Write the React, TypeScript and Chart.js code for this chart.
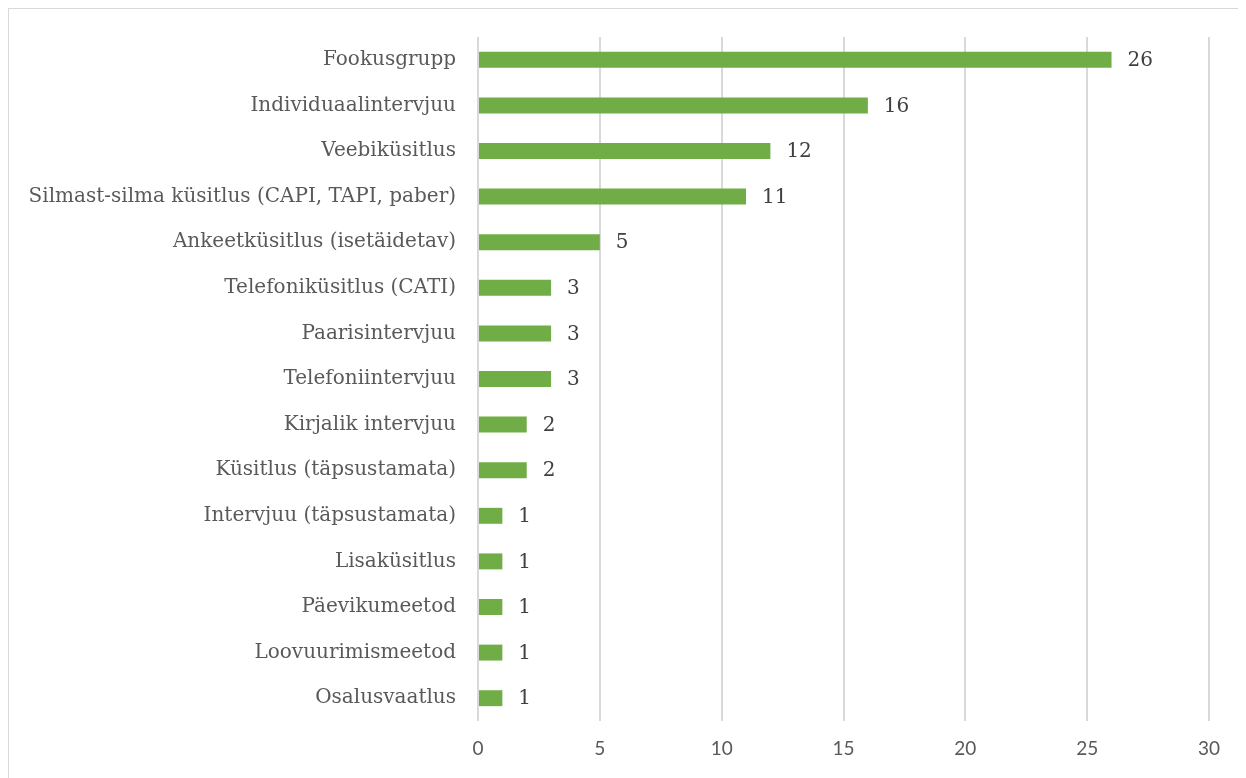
import React, { useEffect, useRef } from "react";
import { Chart, registerables } from "chart.js";

Chart.register(...registerables);

const categories = [
  "Fookusgrupp",
  "Individuaalintervjuu",
  "Veebiküsitlus",
  "Silmast-silma küsitlus (CAPI, TAPI, paber)",
  "Ankeetküsitlus (isetäidetav)",
  "Telefoniküsitlus (CATI)",
  "Paarisintervjuu",
  "Telefoniintervjuu",
  "Kirjalik intervjuu",
  "Küsitlus (täpsustamata)",
  "Intervjuu (täpsustamata)",
  "Lisaküsitlus",
  "Päevikumeetod",
  "Loovuurimismeetod",
  "Osalusvaatlus",
];
const values = [26, 16, 12, 11, 5, 3, 3, 3, 2, 2, 1, 1, 1, 1, 1];
const xMin = 0;
const xMax = 30;
const xStep = 5;

const SERIF = "'DejaVu Serif', serif";
const SANS = "Lato, 'Open Sans', sans-serif";

const valueLabels = {
  id: "valueLabels",
  afterDatasetsDraw(chart: any) {
    const ctx = chart.ctx;
    const meta = chart.getDatasetMeta(0);
    ctx.save();
    ctx.font = `20px ${SERIF}`;
    ctx.fillStyle = "#404040";
    ctx.textAlign = "left";
    ctx.textBaseline = "middle";
    meta.data.forEach((bar: any, i: number) => {
      ctx.fillText(String(values[i]), bar.x + 16, bar.y + 1);
    });
    ctx.restore();
  },
};

export default function App() {
  const ref = useRef<HTMLCanvasElement | null>(null);
  useEffect(() => {
    if (!ref.current) return;
    const chart = new Chart(ref.current, {
      type: "bar",
      data: {
        labels: categories,
        datasets: [
          {
            data: values,
            backgroundColor: "#70AD47",
            categoryPercentage: 1,
            barPercentage: 0.35,
          },
        ],
      },
      options: {
        indexAxis: "y",
        animation: false,
        responsive: false,
        maintainAspectRatio: false,
        layout: { padding: { top: 28, right: 37, left: 0, bottom: 0 } },
        plugins: {
          legend: { display: false },
          tooltip: { enabled: false },
        },
        scales: {
          x: {
            min: xMin,
            max: xMax,
            ticks: {
              stepSize: xStep,
              color: "#595959",
              font: { family: SANS, size: 19 },
              padding: 16,
            },
            grid: { color: "#d9d9d9", lineWidth: 2, drawTicks: false },
            border: { display: false },
            afterFit(s: any) {
              s.height = 57;
              s.paddingLeft = 0;
              s.paddingRight = 0;
            },
          },
          y: {
            ticks: {
              color: "#595959",
              font: { family: SERIF, size: 20 },
              padding: 22,
              autoSkip: false,
            },
            grid: { display: false, drawTicks: false },
            border: { display: false },
            afterFit(s: any) {
              s.width = 469;
              s.paddingTop = 0;
              s.paddingBottom = 0;
            },
          },
        },
      },
      plugins: [valueLabels],
    });
    return () => chart.destroy();
  }, []);
  return (
    <div
      style={{
        width: 1238,
        height: 770,
        borderTop: "1px solid #d9d9d9",
        borderLeft: "1px solid #d9d9d9",
        boxSizing: "border-box",
        background: "#fff",
      }}
    >
      <canvas ref={ref} width={1237} height={769} style={{ display: "block" }} />
    </div>
  );
}
